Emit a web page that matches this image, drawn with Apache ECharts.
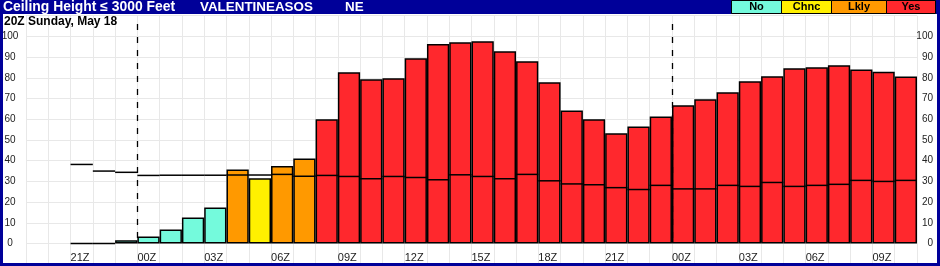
<!DOCTYPE html>
<html>
<head>
<meta charset="utf-8">
<script src="https://cdn.jsdelivr.net/npm/echarts@6/dist/echarts.min.js"></script>
<style>html,body{margin:0;padding:0;background:#fff}#c{width:940px;height:266px}</style>
</head>
<body>
<div id="c"></div>
<script>
// Hourly slots (19Z .. 10Z)
const hours = ['19Z','20Z','21Z','22Z','23Z','00Z','01Z','02Z','03Z','04Z','05Z','06Z','07Z','08Z','09Z','10Z','11Z','12Z','13Z','14Z','15Z','16Z','17Z','18Z','19Z','20Z','21Z','22Z','23Z','00Z','01Z','02Z','03Z','04Z','05Z','06Z','07Z','08Z','09Z','10Z'];
// Slot boundaries for tick labels
const boundaries = hours.concat(['11Z']);
const shownTickLabels = ['21Z','00Z','03Z','06Z','09Z','12Z','15Z','18Z'];
// Probability bars (%)
const probability = [null,null,0,0,1.6,3.4,6.8,12.6,17.4,35.8,31.5,37.4,41.1,60.0,82.7,79.3,79.8,89.5,96.3,97.2,97.7,92.9,88.0,77.9,64.3,60.0,53.2,56.5,61.3,66.8,69.7,73.0,78.4,80.8,84.6,85.1,86.1,84.0,83.0,80.6];
// Reference line segment per slot
const refLine = [null,null,38.2,35.0,34.4,32.9,33.0,33.0,33.0,33.1,33.1,33.4,32.5,32.9,32.4,31.3,32.4,31.9,30.8,33.2,32.4,31.3,33.4,30.3,28.8,28.4,27.0,26.1,28.1,26.4,26.4,28.1,27.6,29.5,27.6,28.1,28.6,30.5,30.0,30.5];
// Category per slot
const category = [null,null,'No','No','No','No','No','No','No','Lkly','Chnc','Lkly','Lkly','Yes','Yes','Yes','Yes','Yes','Yes','Yes','Yes','Yes','Yes','Yes','Yes','Yes','Yes','Yes','Yes','Yes','Yes','Yes','Yes','Yes','Yes','Yes','Yes','Yes','Yes','Yes'];
const legendNames = ['No','Chnc','Lkly','Yes'];
const legendColors = {No:'#74FADC', Chnc:'#FFF000', Lkly:'#FF9900', Yes:'#FF282D'};
// Day-break slots (00Z)
const dayBreaks = [5, 29];
const yTicks = [0,10,20,30,40,50,60,70,80,90,100];

const chart = echarts.init(document.getElementById('c'), null, {renderer:'canvas'});

const barData = probability.map((v,i) => v === null ? '-' : {value:v, itemStyle:{color:legendColors[category[i]]}});
const lineData = refLine.map((v,i) => v === null ? null : [i, v]).filter(d => d);
const breakData = dayBreaks.map(i => [i, 106]);

const navy = '#000099';
const FONT = '"Liberation Sans", Arial, sans-serif';

const legendX = [731, 781, 831, 886, 935];
const graphics = [
  {type:'rect', z:100, shape:{x:0,y:0,width:940,height:14}, style:{fill:navy}},
  {type:'rect', z:100, shape:{x:0,y:0,width:3,height:266}, style:{fill:navy}},
  {type:'rect', z:100, shape:{x:937,y:0,width:3,height:266}, style:{fill:navy}},
  {type:'rect', z:100, shape:{x:0,y:263,width:940,height:3}, style:{fill:navy}},
  {type:'text', z:101, x:3, y:7, style:{text:'Ceiling Height \u2264 3000 Feet', fill:'#fff', font:'bold 13.9px '+FONT, verticalAlign:'middle'}},
  {type:'text', z:101, x:200, y:7, style:{text:'VALENTINEASOS', fill:'#fff', font:'bold 13.4px '+FONT, verticalAlign:'middle'}},
  {type:'text', z:101, x:345, y:7, style:{text:'NE', fill:'#fff', font:'bold 13.4px '+FONT, verticalAlign:'middle'}},
  {type:'text', z:101, x:4, y:21.5, style:{text:'20Z Sunday, May 18', fill:'#000', font:'bold 12px '+FONT, verticalAlign:'middle'}}
];
legendNames.forEach((n,k) => {
  graphics.push({type:'rect', z:101, shape:{x:legendX[k]+0.5, y:0.5, width:legendX[k+1]-legendX[k], height:13}, style:{fill:legendColors[n], stroke:'#000', lineWidth:1}});
  graphics.push({type:'text', z:102, x:(legendX[k]+legendX[k+1])/2+0.5, y:7, style:{text:n, fill:'#000', font:'bold 11px '+FONT, align:'center', verticalAlign:'middle'}});
});

const option = {
  animation:false,
  backgroundColor:'#fff',
  grid:{left:26, right:23, top:15.7, bottom:1.7, containLabel:false, outerBoundsMode:'none'},
  xAxis:[
    {type:'category', data:hours, position:'top', show:false, boundaryGap:true, axisLine:{onZero:false}},
    {type:'category', data:boundaries, position:'bottom', boundaryGap:false,
     axisLine:{show:false, onZero:false}, axisTick:{show:false},
     splitLine:{show:true, interval:0, lineStyle:{color:'#e8e8e8', width:1}},
     axisLabel:{interval:function(i){ return shownTickLabels.indexOf(boundaries[i])>=0 && i<40 && i>=2; }, align:'left', margin:-12, color:'#222', fontSize:11, fontFamily:FONT, verticalAlign:'top'}}
  ],
  yAxis:[
    {type:'value', min:-10, max:110, interval:10, position:'left',
     axisLine:{show:false}, axisTick:{show:false},
     splitLine:{show:true, lineStyle:{color:'#e8e8e8', width:1}},
     axisLabel:{margin:16, align:'center', color:'#222', fontSize:10, fontFamily:FONT,
       formatter:function(v){ return yTicks.indexOf(v)>=0 ? String(v) : ''; }}},
    {type:'value', min:-10, max:110, interval:10, position:'right',
     axisLine:{show:false}, axisTick:{show:false}, splitLine:{show:false},
     axisLabel:{margin:16, align:'right', color:'#222', fontSize:10, fontFamily:FONT,
       formatter:function(v){ return yTicks.indexOf(v)>=0 ? String(v) : ''; }}}
  ],
  series:[
    {type:'bar', xAxisIndex:0, yAxisIndex:0, data:barData, barWidth:'100%', barGap:'0%',
     itemStyle:{borderColor:'#000', borderWidth:1.5}, z:2},
    {type:'custom', xAxisIndex:0, yAxisIndex:0, data:lineData, z:3,
     renderItem:function(params, api){
       const c = api.coord([api.value(0), api.value(1)]);
       const w = api.size([1,0])[0];
       return {type:'line', shape:{x1:c[0]-w/2, y1:c[1], x2:c[0]+w/2, y2:c[1]}, style:{stroke:'#000', lineWidth:1.5}};
     }},
    {type:'custom', xAxisIndex:0, yAxisIndex:0, data:breakData, z:4,
     renderItem:function(params, api){
       const top = api.coord([api.value(0), api.value(1)]);
       const bot = api.coord([api.value(0), 0]);
       const w = api.size([1,0])[0];
       const x = Math.round(top[0]-w/2)+0.5;
       return {type:'line', shape:{x1:x, y1:top[1], x2:x, y2:bot[1]}, style:{stroke:'#000', lineWidth:1.3, lineDash:[6,7]}};
     }}
  ],
  graphic:graphics
};
chart.setOption(option);
</script>
</body>
</html>
